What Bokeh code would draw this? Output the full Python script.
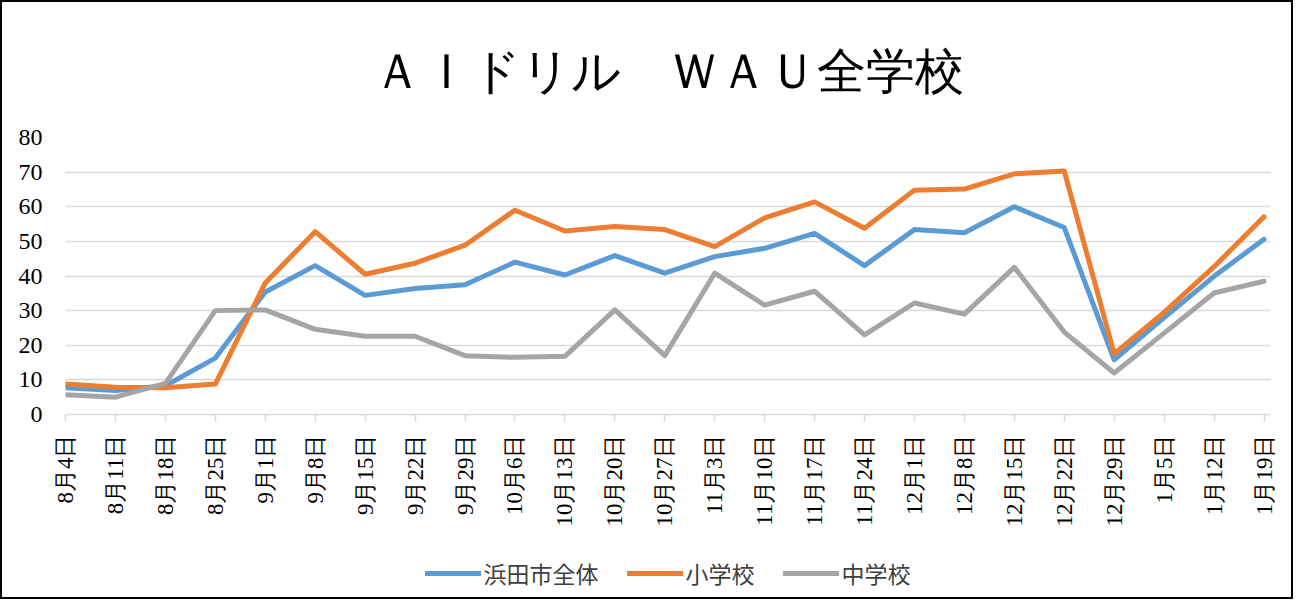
import math
from bokeh.plotting import figure
from bokeh.layouts import column
from bokeh.models import Range1d, FixedTicker, Legend, LegendItem
from bokeh.embed import file_html
from bokeh.resources import INLINE

labels = ["8月4日", "8月11日", "8月18日", "8月25日", "9月1日", "9月8日", "9月15日",
          "9月22日", "9月29日", "10月6日", "10月13日", "10月20日", "10月27日",
          "11月3日", "11月10日", "11月17日", "11月24日", "12月1日", "12月8日",
          "12月15日", "12月22日", "12月29日", "1月5日", "1月12日", "1月19日"]

city = [7.7, 6.9, 8.3, 16.3, 35.4, 43.0, 34.4, 36.4, 37.5, 44.0, 40.3, 45.9, 40.8,
        45.6, 48.0, 52.3, 43.0, 53.4, 52.5, 60.0, 54.0, 15.8, 28.0, 39.9, 50.6]
elementary = [8.8, 7.9, 7.7, 8.8, 38.0, 52.8, 40.5, 43.7, 48.9, 59.0, 53.0, 54.3, 53.4,
              48.5, 56.8, 61.4, 53.8, 64.8, 65.1, 69.5, 70.3, 17.6, 29.5, 42.7, 57.1]
junior = [5.7, 5.0, 9.0, 30.0, 30.2, 24.6, 22.6, 22.6, 17.0, 16.5, 16.8, 30.2, 17.0,
          40.8, 31.6, 35.6, 23.0, 32.2, 29.0, 42.5, 23.8, 12.0, 23.5, 35.1, 38.5]

series_names = ["浜田市全体", "小学校", "中学校"]
colors = ["#5B9BD5", "#ED7D31", "#A5A5A5"]
title_text = "ＡＩドリル　ＷＡＵ全学校"
y_ticks = [0, 10, 20, 30, 40, 50, 60, 70, 80]

xs = list(range(len(labels)))
all_series = [city, elementary, junior]

SERIF = "Liberation Serif"
SANS = "Noto Sans CJK JP"

# main chart
p = figure(width=1289, height=547, output_backend="svg", toolbar_location=None,
           x_range=Range1d(0, 24.13), y_range=Range1d(0, 80),
           min_border_left=63, min_border_right=21, min_border_top=130,
           min_border_bottom=135, title=title_text)
p.outline_line_color = None
p.background_fill_color = "white"
p.border_fill_color = "white"

p.title.align = "center"
p.title.offset = -13
p.title.text_font = SERIF
p.title.text_font_size = "49px"
p.title.text_font_style = "normal"
p.title.text_color = "black"
p.title.standoff = 78

p.xgrid.grid_line_color = None
p.ygrid.grid_line_color = "#D9D9D9"
p.ygrid.grid_line_width = 1.5
p.yaxis.ticker = FixedTicker(ticks=y_ticks)
p.yaxis.axis_line_color = None
p.yaxis.major_tick_line_color = None
p.yaxis.minor_tick_line_color = None
p.yaxis.major_tick_out = 0
p.yaxis.major_tick_in = 0
p.yaxis.major_label_standoff = 23
p.yaxis.major_label_text_font = SERIF
p.yaxis.major_label_text_font_size = "24px"
p.yaxis.major_label_text_color = "black"

p.xaxis.ticker = FixedTicker(ticks=xs)
p.xaxis.major_label_overrides = {i: lab for i, lab in enumerate(labels)}
p.xaxis.major_label_orientation = math.pi / 2
p.xaxis.axis_line_color = "#D9D9D9"
p.xaxis.axis_line_width = 1.5
p.xaxis.major_tick_line_color = "#D9D9D9"
p.xaxis.major_tick_line_width = 1.5
p.xaxis.major_tick_out = 7
p.xaxis.major_tick_in = 0
p.xaxis.minor_tick_line_color = None
p.xaxis.major_label_standoff = 13
p.xaxis.major_label_text_font = SERIF
p.xaxis.major_label_text_font_size = "23px"
p.xaxis.major_label_text_color = "black"

for data, c in zip(all_series, colors):
    p.line(xs, data, line_color=c, line_width=5, line_join="round", line_cap="round")

# legend strip below the chart (series drawn out of its tiny range, only the legend shows)
q = figure(width=1289, height=48, output_backend="svg", toolbar_location=None,
           x_range=Range1d(0, 1), y_range=Range1d(-2, -1),
           min_border_left=0, min_border_right=0, min_border_top=0, min_border_bottom=0)
q.axis.visible = False
q.grid.visible = False
q.outline_line_color = None
q.background_fill_color = "white"
q.border_fill_color = "white"

proxies = []
for data, c in zip(all_series, colors):
    proxies.append(q.line(xs, data, line_color=c, line_width=5, line_cap="round"))

legend = Legend(items=[LegendItem(label=n, renderers=[r]) for n, r in zip(series_names, proxies)],
                orientation="horizontal", location="center")
legend.border_line_color = None
legend.background_fill_alpha = 0
legend.glyph_width = 56
legend.glyph_height = 20
legend.label_standoff = 3
legend.spacing = 28
legend.padding = 0
legend.margin = 0
legend.label_text_font = SANS
legend.label_text_font_size = "23px"
legend.label_text_color = "#404040"
q.add_layout(legend, "center")

layout = column(p, q, spacing=0)
layout.styles = {"border": "2px solid black"}

open("out.html", "w").write(file_html(layout, INLINE))
